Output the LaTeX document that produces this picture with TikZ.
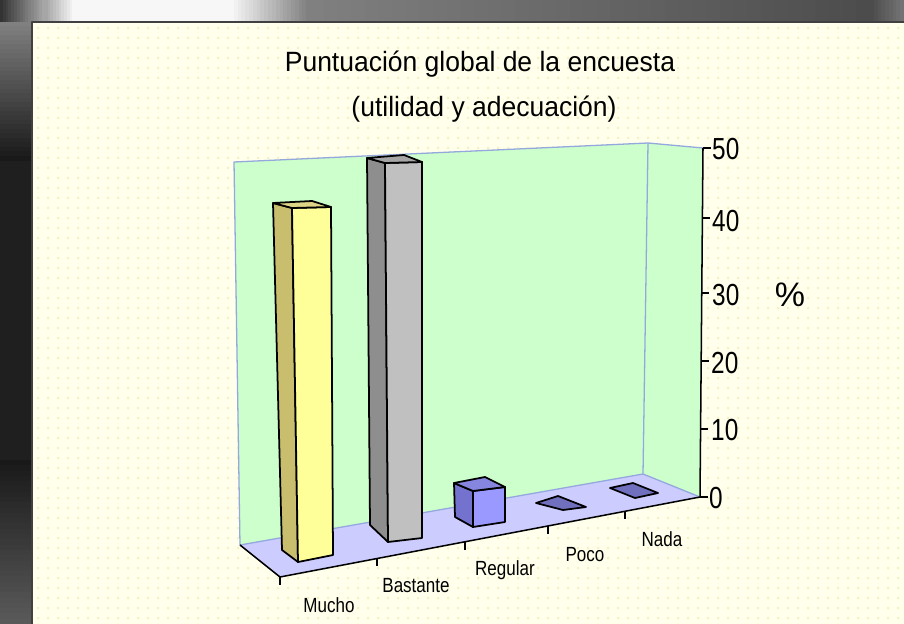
\documentclass[tikz,border=0pt]{standalone}
\usepackage{fontspec}
\setmainfont{Liberation Sans}
\definecolor{panelbg}{HTML}{FFFFEC}
\definecolor{dotc}{HTML}{F6F1C2}
\definecolor{wallc}{HTML}{CCFFCC}
\definecolor{wallln}{HTML}{94A8DD}
\definecolor{floorc}{HTML}{CCCCFF}
\definecolor{yfront}{HTML}{FFFF99}
\definecolor{yside}{HTML}{C9BE6E}
\definecolor{ytop}{HTML}{DDD585}
\definecolor{gfront}{HTML}{C0C0C0}
\definecolor{gside}{HTML}{8E8E8E}
\definecolor{gtop}{HTML}{A6A6A6}
\definecolor{bfront}{HTML}{9999FF}
\definecolor{bside}{HTML}{7373CF}
\definecolor{btop}{HTML}{8686E0}
\definecolor{bflat}{HTML}{7070BE}
% horizontal gradient strip: x0, x1, p0, p1, steps
\newcommand{\hgrad}[5]{%
  \pgfmathsetmacro\stp{(#2-#1)/(#5+1)}%
  \foreach \k in {0,...,#5} {%
    \pgfmathsetmacro\pp{#3+(#4-#3)/#5*\k}%
    \pgfmathsetmacro\xa{#1+\stp*\k}%
    \pgfmathsetmacro\xb{#1+\stp*(\k+1)+0.6}%
    \fill[black!\pp] (\xa,0) rectangle (\xb,22);}}
\newcommand{\vgrad}[5]{%
  \pgfmathsetmacro\stp{(#2-#1)/(#5+1)}%
  \foreach \k in {0,...,#5} {%
    \pgfmathsetmacro\pp{#3+(#4-#3)/#5*\k}%
    \pgfmathsetmacro\ya{#1+\stp*\k}%
    \pgfmathsetmacro\yb{#1+\stp*(\k+1)+0.6}%
    \fill[black!\pp] (0,\ya) rectangle (32,\yb);}}
\begin{document}
\begin{tikzpicture}[x=0.03cm,y=-0.03cm,line join=round,
  barface/.style={draw=black,line width=1.5pt},
  wallline/.style={draw=wallln,line width=1.1pt},
  axisline/.style={draw=black,line width=1.3pt},
  ticklab/.style={font=\fontsize{26}{30}\selectfont,inner sep=0pt,anchor=base west},
  catlab/.style={font=\fontsize{17.5}{20}\selectfont,inner sep=0pt,anchor=base},
  titlelab/.style={font=\fontsize{23.8}{28}\selectfont,inner sep=0pt,anchor=base}]
\useasboundingbox (0,0) rectangle (904,624);
% dark surround
\fill[black!88] (0,0) rectangle (904,624);
\hgrad{0}{45}{80}{35}{15}
\hgrad{45}{75}{35}{3}{10}
\fill[black!3] (75,0) rectangle (230,22);
\hgrad{230}{310}{3}{50}{20}
\hgrad{310}{870}{50}{70}{40}
\hgrad{870}{904}{70}{55}{8}
\vgrad{22}{160}{50}{90}{30}
\vgrad{460}{624}{90}{65}{30}
% panel
\fill[panelbg] (32,22) rectangle (904,624);
\foreach \j in {0,...,59} {
  \fill[dotc] \foreach \i in {0,...,86} {(37+10*\i,27+10*\j) rectangle +(2,2)};
}
\draw[black!75,line width=1pt] (904,22) -- (32,22) -- (32,624);
% title
\node[titlelab] (t1) at (480,72) {\scalebox{0.95}[1]{Puntuación global de la encuesta}};
\node[titlelab] (t2) at (484,117) {\scalebox{0.95}[1]{(utilidad y adecuación)}};
% walls and floor
\fill[wallc] (234,162) -- (648,143) -- (643,474) -- (240,545) -- cycle;
\fill[wallc] (648,143) -- (703,148) -- (700,497) -- (643,474) -- cycle;
\draw[wallline] (240,545) -- (234,162) -- (648,143) -- (703,148);
\draw[wallline] (648,143) -- (643,474);
\fill[floorc] (240,545) -- (643,474) -- (700,497) -- (280,577) -- cycle;
\draw[wallline] (240,545) -- (643,474) -- (700,497);
\draw[axisline] (240,545) -- (280,577) -- (700,497);
\foreach \x/\y in {280/577,377/558,465/542,548/526,625/511}
  \draw[axisline] (\x,\y) -- (\x,\y+8);
% value axis
\draw[axisline] (703,148) -- (700,497);
\foreach \y/\x in {148/703,218/702,293/701,361/701,429/700,497/700}
  \draw[axisline] (\x,\y) -- (\x+8,\y);
\node[ticklab] (v50) at (712,160) {\scalebox{0.8}[1]{50}};
\node[ticklab] (v40) at (712,232) {\scalebox{0.8}[1]{40}};
\node[ticklab] (v30) at (712,305) {\scalebox{0.8}[1]{30}};
\node[ticklab] (v20) at (711,373) {\scalebox{0.8}[1]{20}};
\node[ticklab] (v10) at (711,440) {\scalebox{0.8}[1]{10}};
\node[ticklab] (v0) at (709,508) {\scalebox{0.8}[1]{0}};
\node[font=\fontsize{29}{32}\selectfont,inner sep=0pt] (pct) at (790,295) {\%};
% Mucho bar
\path[barface,fill=yside] (273,203) -- (292,208) -- (298,562) -- (282,550) -- cycle;
\path[barface,fill=yfront] (292,208) -- (331,207) -- (333,555) -- (298,562) -- cycle;
\path[barface,fill=ytop] (273,203) -- (312,201) -- (331,207) -- (292,208) -- cycle;
% Bastante bar
\path[barface,fill=gside] (367,158) -- (385,163) -- (388,542) -- (370,525) -- cycle;
\path[barface,fill=gfront] (385,163) -- (422,162) -- (422,538) -- (388,542) -- cycle;
\path[barface,fill=gtop] (367,158) -- (404,155) -- (422,162) -- (385,163) -- cycle;
% Regular bar
\path[barface,fill=bside] (454,483) -- (473,491) -- (473,527) -- (455,517) -- cycle;
\path[barface,fill=bfront] (473,491) -- (505,487) -- (505,522) -- (473,527) -- cycle;
\path[barface,fill=btop] (454,483) -- (485,477) -- (505,487) -- (473,491) -- cycle;
% Poco and Nada
\path[barface,fill=bflat] (536,503) -- (558,496) -- (586,507) -- (563,510) -- cycle;
\path[barface,fill=bflat] (610,488) -- (633,483) -- (658,493) -- (635,498) -- cycle;
% category labels
\node[catlab] (cm) at (329,612) {\scalebox{0.83}[1]{Mucho}};
\node[catlab] (cb) at (416,592) {\scalebox{0.83}[1]{Bastante}};
\node[catlab] (cr) at (505,575) {\scalebox{0.83}[1]{Regular}};
\node[catlab] (cp) at (585,561) {\scalebox{0.83}[1]{Poco}};
\node[catlab] (cn) at (662,546) {\scalebox{0.83}[1]{Nada}};
\end{tikzpicture}
\end{document}
